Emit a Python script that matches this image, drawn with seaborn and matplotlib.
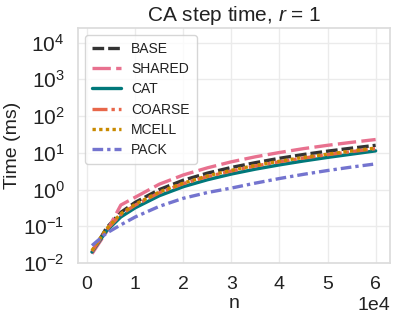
import numpy as np
import pandas as pd
import matplotlib
matplotlib.use("Agg")
import matplotlib.pyplot as plt
import matplotlib.ticker as mticker
import seaborn as sns

n = [1000, 4000, 7000, 10000, 15000, 20000, 25000, 30000, 35000, 40000, 45000, 50000, 55000, 60000]
base = [0.019, 0.09, 0.24, 0.45, 1.0, 1.8, 2.8, 4.0, 5.4, 7.1, 9.0, 11.1, 13.4, 16.0]
shared = [0.018, 0.07, 0.38, 0.62, 1.4, 2.5, 3.9, 5.7, 7.8, 10.2, 13.0, 16.0, 19.3, 23.0]
cat = [0.02, 0.075, 0.18, 0.32, 0.68, 1.2, 1.85, 2.65, 3.6, 4.7, 6.0, 7.5, 9.2, 11.3]
coarse = [0.021, 0.08, 0.21, 0.38, 0.82, 1.45, 2.25, 3.2, 4.4, 5.7, 7.2, 8.9, 10.8, 13.0]
mcell = [0.022, 0.085, 0.22, 0.40, 0.86, 1.5, 2.35, 3.35, 4.55, 5.9, 7.5, 9.2, 11.2, 13.5]
pack = [0.03, 0.065, 0.11, 0.18, 0.35, 0.58, 0.83, 1.1, 1.5, 2.0, 2.6, 3.3, 4.1, 5.0]

labels = ["BASE", "SHARED", "CAT", "COARSE", "MCELL", "PACK"]
series = [base, shared, cat, coarse, mcell, pack]

df = pd.concat([pd.DataFrame({"n": n, "time": s, "impl": lab}) for lab, s in zip(labels, series)],
               ignore_index=True)

sns.set_theme(style="whitegrid", rc={"grid.color": "#ebebeb", "axes.edgecolor": "#dcdcdc"})
plt.rcParams["font.family"] = ["Liberation Sans", "DejaVu Sans"]
plt.rcParams["mathtext.fontset"] = "custom"
plt.rcParams["mathtext.it"] = "Liberation Sans:italic"
plt.rcParams["mathtext.rm"] = "Liberation Sans"
plt.rcParams["text.color"] = "#222222"
plt.rcParams["axes.labelcolor"] = "#222222"
plt.rcParams["xtick.color"] = "#222222"
plt.rcParams["ytick.color"] = "#222222"

palette = {"BASE": "#333333", "SHARED": "#e8718f", "CAT": "#00787a",
           "COARSE": "#e8674a", "MCELL": "#c98a00", "PACK": "#7474cf"}
dashes = {"BASE": (3.5, 1.2), "SHARED": (5.5, 1.6), "CAT": "",
          "COARSE": (4.5, 1.2, 1, 1.2), "MCELL": (1, 1), "PACK": (3.2, 1.2, 1, 1.2)}

fig = plt.figure(figsize=(3.99, 3.17), dpi=100)
ax = fig.add_axes([0.195, 0.170, 0.782, 0.742])
sns.lineplot(data=df, x="n", y="time", hue="impl", style="impl", palette=palette,
             dashes=dashes, linewidth=2.4, ax=ax, hue_order=labels, style_order=labels)
ax.set_yscale("log")
ax.set_ylim(1e-2, 2.5e4)
ax.set_yticks([1e-2, 1e-1, 1e0, 1e1, 1e2, 1e3, 1e4])
ax.xaxis.set_major_locator(mticker.MultipleLocator(10000))
ax.ticklabel_format(axis="x", style="sci", scilimits=(0, 0))
ax.xaxis.get_offset_text().set_fontsize(14)
ax.tick_params(axis="x", labelsize=14)
ax.tick_params(axis="y", labelsize=15)
ax.tick_params(axis="y", which="minor", left=True, length=2, width=0.6, color="#dddddd")
ax.set_xlabel("n", fontsize=14, labelpad=1)
ax.set_ylabel("Time (ms)", fontsize=14, labelpad=2)
ax.set_title("CA step time, $r$ = 1", fontsize=15, pad=5)
leg = ax.legend(loc="upper left", fontsize=10, handlelength=2.1, handletextpad=0.75,
                borderpad=0.5, labelspacing=0.45, frameon=True)
for line in leg.get_lines():
    line.set_linewidth(2.4)
fig.savefig("out.png", dpi=100)
